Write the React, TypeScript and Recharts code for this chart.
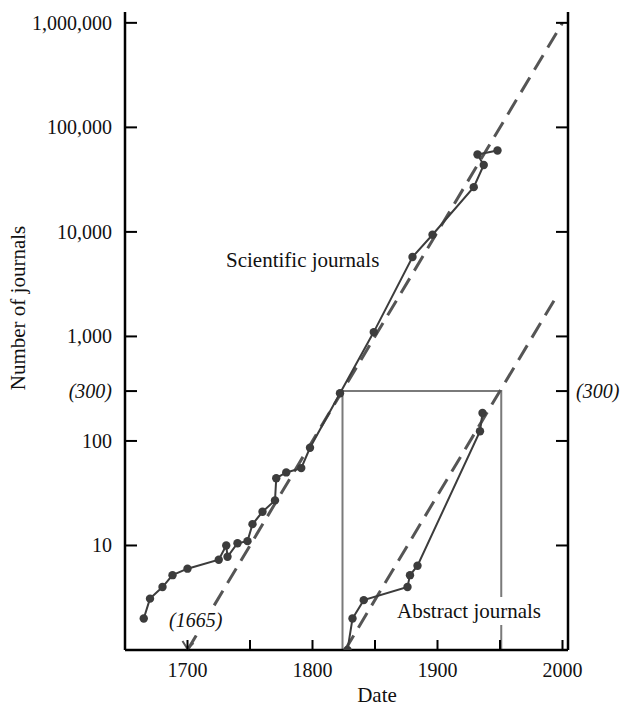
import React from "react";
import { ComposedChart, Line, XAxis, YAxis } from "recharts";

// scientific journals (year, count)
const sciYears = [1665, 1670, 1680, 1688, 1700, 1725, 1731, 1732, 1740, 1748, 1752, 1760, 1770, 1771, 1779, 1791, 1798, 1822, 1849, 1880, 1896, 1929, 1937, 1932, 1948];
const sciCounts = [2, 3.1, 4, 5.2, 6, 7.3, 10, 7.8, 10.5, 11, 16, 21, 27, 44, 50, 55, 86, 286, 1100, 5750, 9400, 26800, 43700, 55000, 60000];

// abstract journals
const absYears = [1828, 1832, 1841, 1876, 1878, 1884, 1934, 1936];
const absCounts = [1, 2, 3, 4, 5.2, 6.4, 124, 185];

// dashed exponential trends
const sciTrendYears = [1700, 2000];
const sciTrendCounts = [1, 1000000];
const absTrendYears = [1826, 1996];
const absTrendCounts = [1, 2500];

// the (300) bracket
const bracketYears = [1824, 1824, 1951, 1951];
const bracketCounts = [1, 300, 300, 1];

const xTicks = [1700, 1750, 1800, 1850, 1900, 1950, 2000];
const xLabeled = [1700, 1800, 1900, 2000];
const yTicks = [10, 100, 300, 1000, 10000, 100000, 1000000];

const zip = (ys: number[], cs: number[]) => ys.map((year, i) => ({ year, count: cs[i] }));

const sciData = zip(sciYears, sciCounts);
const absData = zip(absYears, absCounts);
const sciTrend = zip(sciTrendYears, sciTrendCounts);
const absTrend = zip(absTrendYears, absTrendCounts);
const bracket = zip(bracketYears, bracketCounts);

const FONT = "'Liberation Serif', 'Times New Roman', serif";
const TICK = 12;
const INK = "#3c3c3c";

const fmt = (v: number) => (v === 300 ? "(300)" : v.toLocaleString("en-US"));

const LeftTick = (props: any) => {
  const { x, y, payload } = props;
  const v = payload.value;
  return (
    <g>
      <line x1={x} x2={x + TICK} y1={y} y2={y} stroke="#000" strokeWidth={2} />
      <text x={x - 13} y={y + 7} textAnchor="end" fontFamily={FONT} fontSize={20} fontStyle={v === 300 ? "italic" : "normal"} fill="#111">
        {fmt(v)}
      </text>
    </g>
  );
};

const RightTick = (props: any) => {
  const { x, y, payload } = props;
  const v = payload.value;
  return (
    <g>
      <line x1={x} x2={x - TICK} y1={y} y2={y} stroke="#000" strokeWidth={2} />
      {v === 300 && (
        <text x={x + 8} y={y + 7} textAnchor="start" fontFamily={FONT} fontSize={20} fontStyle="italic" fill="#111">
          (300)
        </text>
      )}
    </g>
  );
};

const BottomTick = (props: any) => {
  const { x, y, payload } = props;
  const v = payload.value;
  return (
    <g>
      <line x1={x} x2={x} y1={y} y2={y - 10} stroke="#000" strokeWidth={2} />
      {xLabeled.includes(v) && (
        <text x={x} y={y + 27} textAnchor="middle" fontFamily={FONT} fontSize={20} fill="#111">
          {v}
        </text>
      )}
    </g>
  );
};

const Dot = (props: any) => {
  const { cx, cy, index } = props;
  return <circle key={index} cx={cx} cy={cy} r={4.2} fill={INK} />;
};

const ArrowEnd = (props: any) => {
  const { cx, cy, index } = props;
  if (index !== 0) return <g key={index} />;
  return <path key={index} d={`M${cx - 5},${cy - 9} L${cx},${cy - 1} L${cx + 6},${cy - 7}`} stroke="#555" strokeWidth={2} fill="none" />;
};

export default function App() {
  return (
    <div style={{ position: "absolute", left: 0, top: 0, width: 621, height: 709, background: "#fff" }}>
      <ComposedChart width={621} height={709} margin={{ top: 12, right: 0, bottom: 0, left: 10 }}>
        <XAxis
          dataKey="year"
          type="number"
          domain={[1650, 2004.4]}
          ticks={xTicks}
          allowDataOverflow
          height={59}
          tickSize={0}
          tickMargin={0}
          tickLine={false}
          axisLine={{ stroke: "#000", strokeWidth: 2.5 }}
          tick={<BottomTick />}
        />
        <YAxis
          yAxisId="left"
          scale="log"
          type="number"
          domain={[1, 1270000]}
          ticks={yTicks}
          allowDataOverflow
          width={115}
          tickSize={0}
          tickMargin={0}
          tickLine={false}
          axisLine={{ stroke: "#000", strokeWidth: 2.5 }}
          tick={<LeftTick />}
        />
        <YAxis
          yAxisId="right"
          orientation="right"
          scale="log"
          type="number"
          domain={[1, 1270000]}
          ticks={yTicks}
          allowDataOverflow
          width={53}
          tickSize={0}
          tickMargin={0}
          tickLine={false}
          axisLine={{ stroke: "#000", strokeWidth: 2.5 }}
          tick={<RightTick />}
        />
        <Line yAxisId="left" data={bracket} dataKey="count" stroke="#7a7a7a" strokeWidth={2} dot={false} isAnimationActive={false} type="linear" />
        <Line yAxisId="right" data={sciTrend} dataKey="count" stroke="#555" strokeWidth={3} strokeDasharray="17 9" dot={<ArrowEnd />} isAnimationActive={false} type="linear" />
        <Line yAxisId="left" data={absTrend} dataKey="count" stroke="#555" strokeWidth={3} strokeDasharray="17 9" dot={false} isAnimationActive={false} type="linear" />
        <Line yAxisId="left" data={sciData} dataKey="count" stroke={INK} strokeWidth={2} dot={<Dot />} isAnimationActive={false} type="linear" />
        <Line yAxisId="left" data={absData} dataKey="count" stroke={INK} strokeWidth={2} dot={<Dot />} isAnimationActive={false} type="linear" />
      </ComposedChart>
      <svg width={621} height={709} style={{ position: "absolute", left: 0, top: 0, pointerEvents: "none" }}>
        <g fontFamily={FONT} fontSize={21} fill="#111">
          <text transform="translate(25,308) rotate(-90)" textAnchor="middle">Number of journals</text>
          <text x={377} y={702} textAnchor="middle">Date</text>
          <text x={226} y={267}>Scientific journals</text>
          <rect x={393} y={597} width={154} height={28} fill="#fff" />
          <text x={397} y={618}>Abstract journals</text>
          <rect x={166} y={610} width={60} height={25} fill="#fff" />
          <text x={169} y={627} fontStyle="italic" fontSize={20}>(1665)</text>
        </g>
      </svg>
    </div>
  );
}
